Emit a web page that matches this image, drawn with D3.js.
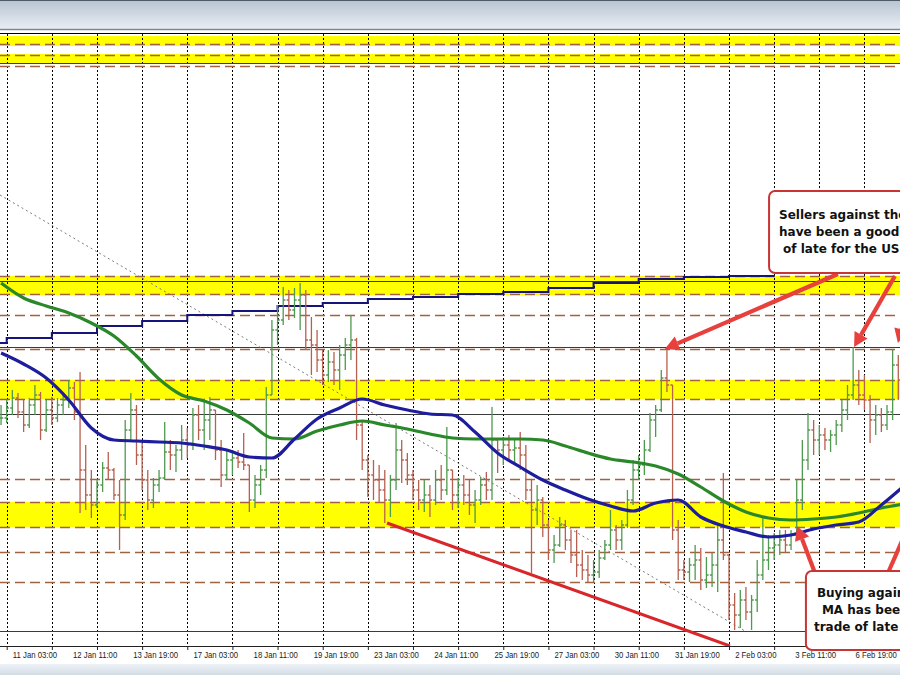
<!DOCTYPE html>
<html><head><meta charset="utf-8">
<script src="https://cdn.jsdelivr.net/npm/d3@7"></script>
<style>
html,body{margin:0;padding:0;background:#fff;overflow:hidden;}
svg{display:block;}
</style></head><body>
<svg id="c" width="900" height="675"></svg>
<script>
// ---- DATA ----
const barStartHour = -3, barStepHours = 3;   // 3-hour bars, hour 0 = 11 Jan 00:00 (trading hours)
const highs = [
1.3595,1.3600,1.3610,1.3607,1.3600,1.3602,1.3615,1.3608,1.3600,1.3603,
1.3602,1.3605,1.3620,1.3618,1.3628,1.3555,1.3530,1.3520,1.3538,1.3548,
1.3532,1.3520,1.3580,1.3607,1.3595,1.3560,1.3530,1.3522,1.3530,1.3578,
1.3560,1.3555,1.3575,1.3572,1.3592,1.3595,1.3600,1.3603,1.3585,1.3560,
1.3550,1.3550,1.3550,1.3567,1.3530,1.3525,1.3535,1.3613,1.3680,1.3695,
1.3713,1.3710,1.3712,1.3717,1.3710,1.3683,1.3670,1.3650,1.3650,1.3648,
1.3655,1.3662,1.3685,1.3662,1.3580,1.3545,1.3540,1.3535,1.3530,1.3525,
1.3577,1.3560,1.3547,1.3530,1.3520,1.3520,1.3515,1.3530,1.3535,1.3573,
1.3530,1.3522,1.3525,1.3520,1.3510,1.3523,1.3528,1.3593,1.3560,1.3563,
1.3565,1.3560,1.3568,1.3555,1.3520,1.3515,1.3503,1.3480,1.3465,1.3483,
1.3480,1.3470,1.3470,1.3450,1.3445,1.3440,1.3450,1.3460,1.3490,1.3475,
1.3480,1.3510,1.3540,1.3545,1.3560,1.3587,1.3595,1.3630,1.3650,1.3615,
1.3480,1.3440,1.3442,1.3455,1.3452,1.3443,1.3447,1.3477,1.3527,1.3440,
1.3407,1.3410,1.3413,1.3405,1.3440,1.3483,1.3465,1.3467,1.3470,1.3470,
1.3470,1.3520,1.3560,1.3587,1.3580,1.3575,1.3572,1.3570,1.3580,1.3600,
1.3615,1.3653,1.3630,1.3625,1.3605,1.3595,1.3592,1.3595,1.3650,1.3645];
const lows = [
1.3575,1.3577,1.3585,1.3582,1.3568,1.3572,1.3585,1.3560,1.3568,1.3575,
1.3578,1.3585,1.3592,1.3580,1.3487,1.3490,1.3482,1.3492,1.3508,1.3520,
1.3500,1.3450,1.3480,1.3560,1.3535,1.3510,1.3490,1.3492,1.3508,1.3520,
1.3530,1.3528,1.3540,1.3542,1.3550,1.3560,1.3550,1.3560,1.3540,1.3513,
1.3520,1.3525,1.3532,1.3530,1.3488,1.3492,1.3505,1.3522,1.3605,1.3655,
1.3675,1.3680,1.3682,1.3670,1.3650,1.3625,1.3628,1.3615,1.3618,1.3615,
1.3610,1.3630,1.3640,1.3560,1.3530,1.3503,1.3500,1.3497,1.3477,1.3483,
1.3510,1.3517,1.3515,1.3500,1.3490,1.3488,1.3483,1.3495,1.3500,1.3505,
1.3490,1.3492,1.3495,1.3485,1.3477,1.3495,1.3500,1.3500,1.3527,1.3535,
1.3538,1.3535,1.3530,1.3500,1.3427,1.3475,1.3463,1.3440,1.3437,1.3453,
1.3450,1.3437,1.3423,1.3420,1.3418,1.3418,1.3422,1.3440,1.3450,1.3450,
1.3450,1.3472,1.3495,1.3520,1.3525,1.3548,1.3563,1.3588,1.3608,1.3460,
1.3420,1.3420,1.3418,1.3420,1.3410,1.3412,1.3413,1.3408,1.3440,1.3380,
1.3370,1.3372,1.3380,1.3370,1.3388,1.3420,1.3430,1.3440,1.3445,1.3447,
1.3450,1.3460,1.3490,1.3530,1.3545,1.3545,1.3550,1.3548,1.3555,1.3568,
1.3580,1.3600,1.3595,1.3590,1.3557,1.3565,1.3568,1.3570,1.3580,1.3600];
const closes = [
1.3582,1.3592,1.3602,1.3588,1.3575,1.3595,1.3605,1.3570,1.3590,1.3582,
1.3595,1.3600,1.3612,1.3588,1.3530,1.3505,1.3495,1.3515,1.3532,1.3530,
1.3505,1.3485,1.3570,1.3590,1.3545,1.3520,1.3500,1.3515,1.3522,1.3548,
1.3545,1.3550,1.3560,1.3555,1.3585,1.3570,1.3580,1.3590,1.3550,1.3525,
1.3540,1.3542,1.3538,1.3535,1.3500,1.3515,1.3530,1.3605,1.3670,1.3680,
1.3700,1.3690,1.3700,1.3705,1.3660,1.3655,1.3640,1.3625,1.3638,1.3630,
1.3645,1.3655,1.3660,1.3575,1.3540,1.3525,1.3520,1.3510,1.3500,1.3520,
1.3550,1.3540,1.3525,1.3510,1.3500,1.3505,1.3500,1.3520,1.3510,1.3530,
1.3505,1.3515,1.3505,1.3495,1.3500,1.3515,1.3510,1.3560,1.3550,1.3555,
1.3550,1.3552,1.3545,1.3510,1.3490,1.3500,1.3475,1.3450,1.3455,1.3475,
1.3460,1.3445,1.3435,1.3430,1.3425,1.3428,1.3442,1.3455,1.3470,1.3460,
1.3475,1.3500,1.3530,1.3535,1.3550,1.3580,1.3590,1.3622,1.3615,1.3470,
1.3430,1.3428,1.3435,1.3440,1.3420,1.3425,1.3435,1.3460,1.3445,1.3395,
1.3385,1.3400,1.3388,1.3400,1.3425,1.3440,1.3452,1.3455,1.3460,1.3455,
1.3465,1.3500,1.3540,1.3570,1.3560,1.3565,1.3560,1.3565,1.3575,1.3590,
1.3605,1.3615,1.3605,1.3600,1.3580,1.3585,1.3575,1.3588,1.3635,1.3620];

const maStepBars = 4;  // MA samples every 4 bars (12 hours)
const blueMA = [1.3647,1.3636,1.3622,1.3600,1.3572,1.3560,1.3559,1.3558,1.3557,1.3554,
1.3550,1.3543,1.3542,1.3561,1.3581,1.3592,1.3601,1.3595,1.3590,1.3586,
1.3585,1.3568,1.3547,1.3533,1.3520,1.3510,1.3501,1.3494,1.3489,1.3497,
1.3500,1.3483,1.3474,1.3468,1.3463,1.3465,1.3471,1.3475,1.3478,1.3495,1.3514];
const greenMA = [1.3717,1.3702,1.3694,1.3687,1.3677,1.3664,1.3644,1.3621,1.3605,1.3599,
1.3590,1.3577,1.3562,1.3561,1.3569,1.3575,1.3579,1.3575,1.3571,1.3566,
1.3562,1.3561,1.3561,1.3561,1.3560,1.3554,1.3547,1.3541,1.3538,1.3534,
1.3526,1.3513,1.3499,1.3488,1.3482,1.3480,1.3481,1.3483,1.3487,1.3492,1.3496];
const dailyStartDay = -1;
const dailyLine = [1.3657,1.3662,1.3667,1.3674,1.3679,1.3685,1.3689,1.3694,1.3697,1.3701,
1.3703,1.3706,1.3708,1.3712,1.3717,1.3721,1.3723,1.3724];

const gridHours = d3.range(0, 457, 24);
const tickHours = [3,35,67,99,131,163,195,227,259,291,323,355,387,419,451];
const tickLabels = ["11 Jan 03:00","12 Jan 11:00","13 Jan 19:00","17 Jan 03:00","18 Jan 11:00",
"19 Jan 19:00","23 Jan 03:00","24 Jan 11:00","25 Jan 19:00","27 Jan 03:00","30 Jan 11:00",
"31 Jan 19:00","2 Feb 03:00","3 Feb 11:00","6 Feb 19:00"];

const zones = [[1.3964,1.3954],[1.3946,1.3936],[1.3724,1.3705],[1.3620,1.3601],[1.3498,1.3473]];
const dashedLevels = [1.3956,1.3945,1.3934,1.3724,1.3706,1.3685,1.3651,1.3620,1.3601,1.3521,1.3498,1.3473,1.3448,1.3418];
const solidLevels = [1.3937,1.3719,1.3653,1.3586,1.3369];
const dottedTrend = [[-3.56,1.3805],[392.5,1.3369]];
const redTrend = [[202.2,1.3477],[384.5,1.3354]];
const arrows = [
  [[441.9,1.3726],[349.9,1.3651]],
  [[472.2,1.3724],[450.5,1.3653]],
  [[482.9,1.3720],[473.8,1.3657]],
  [[429.7,1.3427],[420.2,1.3474]],
  [[468.5,1.3427],[481.3,1.3482]]];
const callout1Lines = ["Sellers against the highs","have been a good trade","of late for the USDCAD"];
const callout2Lines = ["Buying against the 200 hour","MA has been a good","trade of late"];
const callout1Box = [405.3, 520, 1.3809, 1.3727];
const callout2Box = [424.9, 520, 1.3429, 1.3350];

// ---- SCALES ----
const x = d3.scaleLinear().domain([-3.562, 474.91]).range([0, 900]);
const y = d3.scaleLinear().domain([1.3354, 1.3967]).range([646, 33]);

const svg = d3.select("#c");
const defs = svg.append("defs");
const tg = defs.append("linearGradient").attr("id","topG").attr("x1",0).attr("y1",0).attr("x2",0).attr("y2",1);
tg.append("stop").attr("offset","0%").attr("stop-color","#b7c4d1");
tg.append("stop").attr("offset","100%").attr("stop-color","#e9eef4");
const bg = defs.append("linearGradient").attr("id","botG").attr("x1",0).attr("y1",0).attr("x2",0).attr("y2",1);
bg.append("stop").attr("offset","0%").attr("stop-color","#eef2f7");
bg.append("stop").attr("offset","100%").attr("stop-color","#d3dce6");
defs.append("clipPath").attr("id","plot").append("rect").attr("x",0).attr("y",34).attr("width",900).attr("height",612);

svg.append("rect").attr("width",900).attr("height",675).attr("fill","#fff");
svg.append("rect").attr("x",0).attr("y",0).attr("width",900).attr("height",29).attr("fill","url(#topG)");
svg.append("line").attr("x1",0).attr("x2",900).attr("y1",0.5).attr("y2",0.5).attr("stroke","#4d5b69");
svg.append("line").attr("x1",0).attr("x2",900).attr("y1",29.5).attr("y2",29.5).attr("stroke","#7d8894").attr("stroke-width",1.5);
svg.append("rect").attr("x",0).attr("y",664).attr("width",900).attr("height",11).attr("fill","url(#botG)");

const plot = svg.append("g").attr("clip-path","url(#plot)");

// zones
plot.selectAll("rect.zone").data(zones).join("rect").attr("class","zone")
  .attr("x",0).attr("width",900)
  .attr("y",d=>y(d[0])).attr("height",d=>y(d[1])-y(d[0]))
  .attr("fill","#ffff00");

// vertical grid
plot.selectAll("line.grid").data(gridHours).join("line").attr("class","grid")
  .attr("x1",d=>Math.round(x(d))+0.5).attr("x2",d=>Math.round(x(d))+0.5)
  .attr("y1",34).attr("y2",646)
  .attr("stroke","#000").attr("stroke-dasharray","2,2").attr("stroke-width",1);

// levels
plot.selectAll("line.sol").data(solidLevels).join("line").attr("class","sol")
  .attr("x1",0).attr("x2",900).attr("y1",d=>Math.round(y(d))+0.5).attr("y2",d=>Math.round(y(d))+0.5)
  .attr("stroke","#3a3a3a").attr("stroke-width",1);
plot.selectAll("line.dash").data(dashedLevels).join("line").attr("class","dash")
  .attr("x1",0).attr("x2",900).attr("y1",d=>Math.round(y(d))+0.5).attr("y2",d=>Math.round(y(d))+0.5)
  .attr("stroke","#a0623f").attr("stroke-width",1.3).attr("stroke-dasharray","10,5");

// dotted trend
const ln = d3.line().x(d=>x(d[0])).y(d=>y(d[1]));
plot.append("path").attr("d",ln(dottedTrend)).attr("fill","none")
  .attr("stroke","#7a7a7a").attr("stroke-width",1).attr("stroke-dasharray","2,3");

// daily step line
const stepPts = [];
dailyLine.forEach((v,k)=>{ const d = dailyStartDay + k; stepPts.push([d*24, v]); stepPts.push([(d+1)*24, v]); });
plot.append("path").attr("d",ln(stepPts)).attr("fill","none")
  .attr("stroke","#14147a").attr("stroke-width",2);

// bars
const barG = plot.append("g");
closes.forEach((c,i)=>{
  const t = barStartHour + barStepHours*i;
  const o = i>0 ? closes[i-1] : c;
  const hi = Math.max(highs[i], o, c), lo = Math.min(lows[i], o, c);
  const bx = x(t);
  const up = c >= o;
  barG.append("path")
    .attr("d", `M${bx},${y(hi)}V${y(lo)}M${bx-2.2},${y(o)}H${bx}M${bx},${y(c)}H${bx+2.2}`)
    .attr("stroke", up ? "#4f9a4f" : "#b8604f").attr("stroke-width",1.3).attr("fill","none");
});

// moving averages
const maLine = d3.line().curve(d3.curveMonotoneX)
  .x((d,k)=>x(barStartHour + barStepHours*maStepBars*k)).y(d=>y(d));
plot.append("path").attr("d",maLine(greenMA)).attr("fill","none").attr("stroke","#2a882a").attr("stroke-width",3.2);
plot.append("path").attr("d",maLine(blueMA)).attr("fill","none").attr("stroke","#1d1d9e").attr("stroke-width",3.2);

// red trend
plot.append("path").attr("d",ln(redTrend)).attr("fill","none").attr("stroke","#d8262a").attr("stroke-width",3);

// frame lines
svg.append("line").attr("x1",0).attr("x2",900).attr("y1",33.5).attr("y2",33.5).attr("stroke","#000");
svg.append("line").attr("x1",0).attr("x2",900).attr("y1",646.5).attr("y2",646.5).attr("stroke","#222");

// axis ticks
const axT = svg.append("g").attr("transform","translate(0,646)")
  .call(d3.axisBottom(x).tickValues(gridHours).tickFormat("").tickSize(4).tickSizeOuter(0));
axT.select(".domain").remove();
axT.selectAll("line").attr("stroke","#222");
const axL = svg.append("g").attr("transform","translate(0,646)")
  .call(d3.axisBottom(x).tickValues(tickHours).tickFormat((d,i)=>tickLabels[i]).tickSize(0).tickSizeOuter(0));
axL.select(".domain").remove();
axL.selectAll("text").attr("text-anchor","start").attr("y",6).attr("dy","0.71em")
  .attr("font-family","'Liberation Sans', Arial, sans-serif").attr("font-size","9px").attr("fill","#222")
  .each(function(){ const w = this.getComputedTextLength(); d3.select(this).attr("textLength", w*0.86).attr("lengthAdjust","spacingAndGlyphs"); });

// arrows
const arrowCol = "#e8403c";
arrows.forEach(a=>{
  const x0=x(a[0][0]), y0=y(a[0][1]), x1=x(a[1][0]), y1=y(a[1][1]);
  const ang = Math.atan2(y1-y0, x1-x0), L=14, Wd=7.5;
  const bx = x1 - L*Math.cos(ang), by = y1 - L*Math.sin(ang);
  svg.append("line").attr("x1",x0).attr("y1",y0).attr("x2",bx).attr("y2",by)
    .attr("stroke",arrowCol).attr("stroke-width",4.2);
  svg.append("path").attr("d",`M${x1},${y1}L${bx+Wd*Math.sin(ang)},${by-Wd*Math.cos(ang)}L${bx-Wd*Math.sin(ang)},${by+Wd*Math.cos(ang)}Z`)
    .attr("fill",arrowCol);
});

// callouts
function callout(box, lines, offs, base){
  const bx = x(box[0]), by = y(box[2]);
  svg.append("rect").attr("x",bx).attr("y",by).attr("width",x(box[1])-bx).attr("height",y(box[3])-by)
    .attr("rx",6).attr("fill","#fff").attr("stroke","#c93434").attr("stroke-width",2);
  lines.forEach((s,k)=>{
    svg.append("text").attr("x",bx+offs[k]).attr("y",by+base+k*17)
      .attr("font-family","'DejaVu Sans', Verdana, sans-serif").attr("font-weight","bold")
      .attr("font-size","12px").attr("fill","#111").text(s);
  });
}
callout(callout1Box, callout1Lines, [10,10,14], 28);
callout(callout2Box, callout2Lines, [11,16,8], 26);
</script>
</body></html>
